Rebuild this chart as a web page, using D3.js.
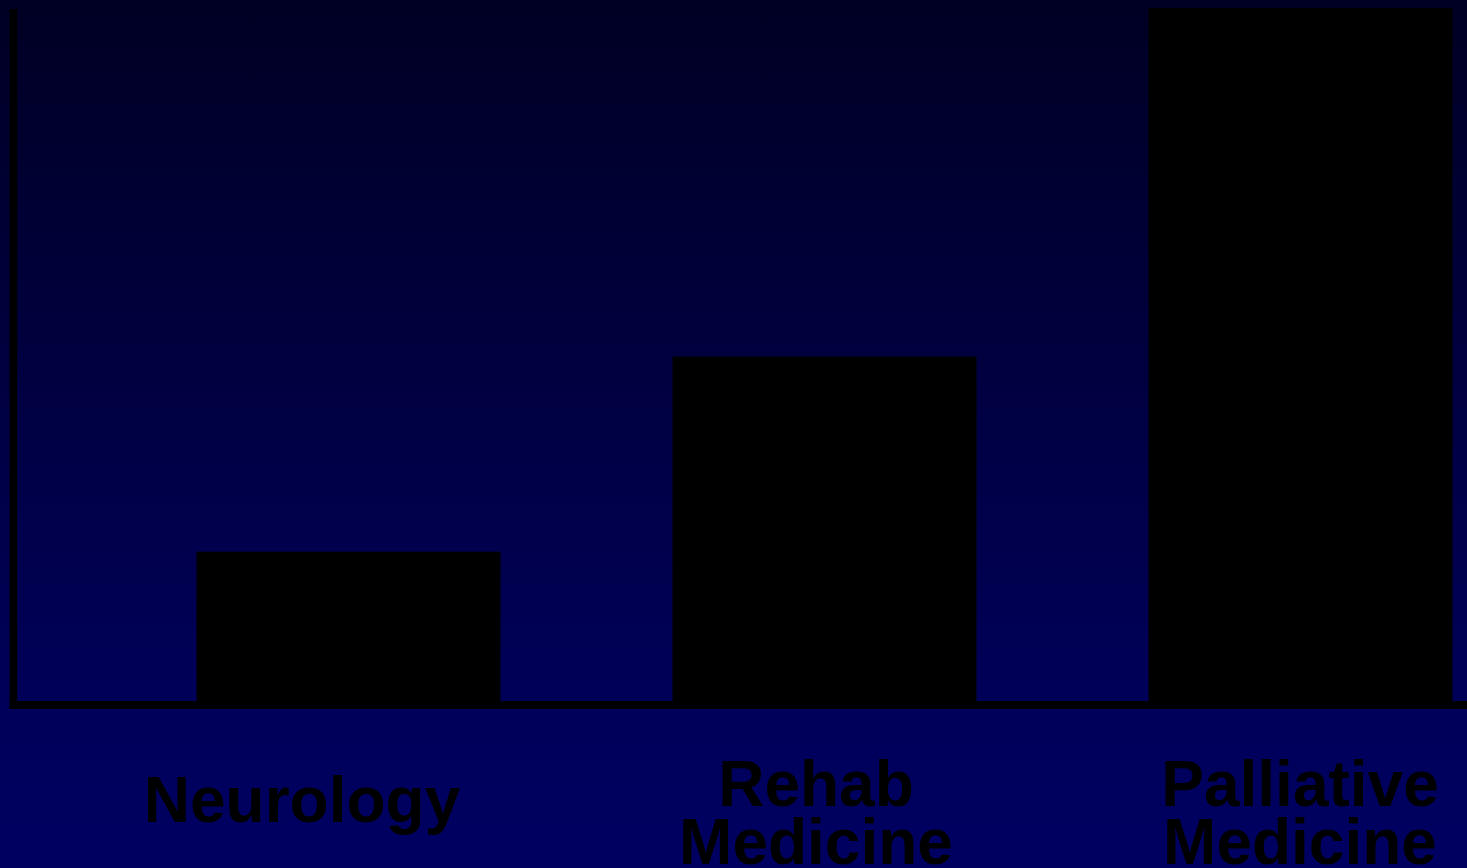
<!DOCTYPE html>
<html>
<head>
<meta charset="utf-8">
<script src="https://cdn.jsdelivr.net/npm/d3@7/dist/d3.min.js"></script>
<style>
  html, body { margin: 0; padding: 0; background: #000040; overflow: hidden; }
  svg { display: block; }
</style>
</head>
<body>
<svg id="chart" width="1467" height="868"></svg>
<script>
// ---- data ----
const categories = ["Neurology", "Rehab Medicine", "Palliative Medicine"];
const labelLines = [["Neurology"], ["Rehab", "Medicine"], ["Palliative", "Medicine"]];
const values = [22, 50, 100];

// ---- layout / style ----
const W = 1467, H = 868;
const baseY = 705, topY = 8;
const step = 476, bandW = 304, firstStart = 196.5, rangeStart = 17;
const labelDx = [-46.5, -8.5, -0.5];
const labelFirstBaseline = [822, 806, 806];
const lineGap = 58;

const svg = d3.select("#chart");

const defs = svg.append("defs");
const grad = defs.append("linearGradient")
  .attr("id", "bg").attr("x1", 0).attr("y1", 0).attr("x2", 0).attr("y2", 1);
grad.append("stop").attr("offset", "0%").attr("stop-color", "#000024");
grad.append("stop").attr("offset", "82%").attr("stop-color", "#00005a");
grad.append("stop").attr("offset", "100%").attr("stop-color", "#000062");

svg.append("rect").attr("width", W).attr("height", H).attr("fill", "url(#bg)");

const pInner = (step - bandW) / step;
const pOuter = (firstStart - rangeStart) / step;
const x = d3.scaleBand()
  .domain(categories)
  .range([rangeStart, rangeStart + step * (categories.length - pInner + 2 * pOuter)])
  .paddingInner(pInner)
  .paddingOuter(pOuter);

const y = d3.scaleLinear().domain([0, 100]).range([baseY, topY]);

svg.append("g").selectAll("rect")
  .data(values)
  .join("rect")
  .attr("x", (d, i) => x(categories[i]))
  .attr("width", x.bandwidth())
  .attr("y", d => y(d))
  .attr("height", d => y(0) - y(d))
  .attr("fill", "#000000");

// axes (plain lines, no ticks)
svg.append("line")
  .attr("x1", 13.4).attr("x2", 13.4)
  .attr("y1", 9).attr("y2", 709)
  .attr("stroke", "#000").attr("stroke-width", 7.6);
svg.append("line")
  .attr("x1", 9.6).attr("x2", W)
  .attr("y1", y(0)).attr("y2", y(0))
  .attr("stroke", "#000").attr("stroke-width", 8);

// labels
const lab = svg.append("g")
  .attr("font-family", "'Liberation Sans', Arial, sans-serif")
  .attr("font-weight", "bold")
  .attr("font-size", 64)
  .attr("fill", "#000")
  .attr("text-anchor", "middle");

categories.forEach((c, i) => {
  const cx = x(c) + x.bandwidth() / 2 + labelDx[i];
  const t = lab.append("text")
    .attr("x", cx)
    .attr("y", labelFirstBaseline[i]);
  labelLines[i].forEach((ln, j) => {
    t.append("tspan")
      .attr("x", cx)
      .attr("y", labelFirstBaseline[i] + j * lineGap)
      .text(ln);
  });
});
</script>
</body>
</html>
